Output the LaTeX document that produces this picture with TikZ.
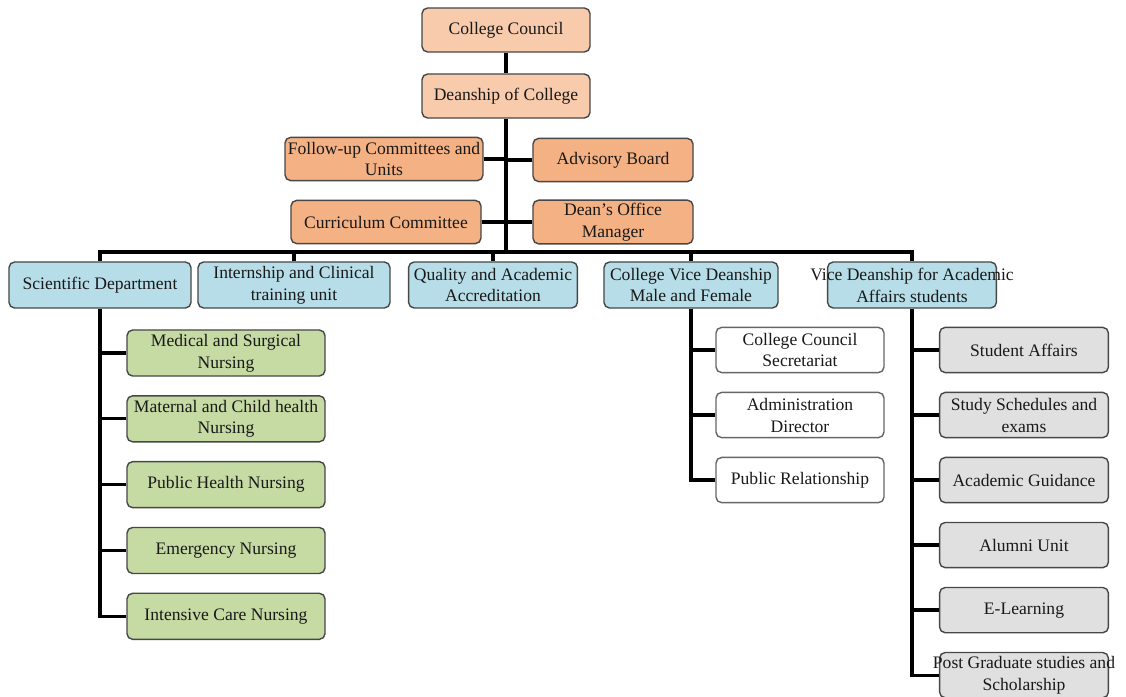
\documentclass[tikz,border=0pt]{standalone}
\usepackage{fontspec}
\setmainfont{Liberation Serif}
\usetikzlibrary{positioning}

\definecolor{peach}{HTML}{F8CBAD}
\definecolor{apricot}{HTML}{F4B183}
\definecolor{deptblue}{HTML}{B7DEE8}
\definecolor{sage}{HTML}{C6DAA3}
\definecolor{mist}{HTML}{E0E0E0}
\definecolor{rim}{HTML}{474747}

% a line that may stick out of its box
\newcommand{\spill}[1]{\makebox[0pt]{#1}}

\begin{document}
\begin{tikzpicture}[
        x=0.025cm, y=-0.025cm,
        node distance=0.46cm,
        font=\fontsize{12.5}{15.6}\selectfont,
        box/.style={draw=rim, line width=1pt, rounded corners=4pt, align=center, inner sep=2pt, text=black!90},
        headbox/.style={box, fill=peach, minimum width=4.2cm, minimum height=1.1cm},
        staffbox/.style={box, fill=apricot, minimum height=1.08cm},
        deptbox/.style={box, fill=deptblue, minimum height=1.15cm},
        unitbox/.style={box, fill=sage, minimum width=4.95cm, minimum height=1.15cm},
        officebox/.style={box, fill=white, draw=gray!80!black, minimum width=4.2cm, minimum height=1.13cm},
        servicebox/.style={box, fill=mist, minimum width=4.22cm, minimum height=1.13cm},
        link/.style={line width=2.3pt, black}
      ]
      \useasboundingbox (0,0) rectangle (1126,697);

      % --- Top of the chart ---
      \node[headbox] (council) at (506,30) {College Council};
      \node[headbox] (dean) at (506,96) {Deanship of College};

      \node[staffbox, minimum width=4.85cm] (followup) at (384,159) {Follow-up Committees and\\Units};
      \node[staffbox, minimum width=4.0cm] (advisory) at (613,160) {Advisory Board};
      \node[staffbox, minimum width=4.75cm] (curriculum) at (386,222) {Curriculum Committee};
      \node[staffbox, minimum width=4.0cm] (deanoffice) at (613,222) {Dean’s Office\\Manager};

      \coordinate (bar) at (506,252);

      % --- Second level ---
      \node[deptbox, minimum width=4.55cm] (sci) at (100,285) {Scientific Department};
      \node[deptbox, minimum width=4.8cm] (intern) at (294,285) {Internship and Clinical\\training unit};
      \node[deptbox, minimum width=4.22cm] (quality) at (493,285) {Quality and Academic\\Accreditation};
      \node[deptbox, minimum width=4.35cm] (vicemf) at (691,285) {College Vice Deanship\\Male and Female};
      \node[deptbox, minimum width=4.22cm] (viceacad) at (912,285) {\spill{Vice Deanship for Academic}\\Affairs students};

      % --- Departments ---
      \node[unitbox] (medical) at (226,353) {Medical and Surgical\\Nursing};
      \node[unitbox, below=of medical] (maternal) {Maternal and Child health\\Nursing};
      \node[unitbox, below=of maternal] (public) {Public Health Nursing};
      \node[unitbox, below=of public] (emergency) {Emergency Nursing};
      \node[unitbox, below=of emergency] (intensive) {Intensive Care Nursing};

      % --- Vice deanship offices ---
      \node[officebox] (secretariat) at (800,350) {College Council\\Secretariat};
      \node[officebox, below=of secretariat] (admin) {Administration\\Director};
      \node[officebox, below=of admin] (relations) {Public Relationship};

      % --- Student services ---
      \node[servicebox] (affairs) at (1024,350) {Student Affairs};
      \node[servicebox, below=of affairs] (schedules) {Study Schedules and\\exams};
      \node[servicebox, below=of schedules] (guidance) {Academic Guidance};
      \node[servicebox, below=of guidance] (alumni) {Alumni Unit};
      \node[servicebox, below=of alumni] (elearning) {E-Learning};
      \node[servicebox, below=of elearning] (postgrad) {\spill{Post Graduate studies and}\\Scholarship};

      % --- Lines ---
      \draw[link] (council) -- (dean);
      \draw[link] (dean) -- (bar);
      \draw[link] (followup.east) -- (followup.east -| bar);
      \draw[link] (advisory.west) -- (advisory.west -| bar);
      \draw[link] (curriculum.east) -- (curriculum.east -| bar);
      \draw[link] (deanoffice.west) -- (deanoffice.west -| bar);

      \draw[link] (sci.north) |- (bar) -| (viceacad.north);
      \foreach \d in {intern,quality,vicemf}
        \draw[link] (\d.north) -- (\d.north |- bar);

      \draw[link] (sci.south) |- (intensive.west);
      \foreach \u in {medical,maternal,public,emergency}
        \draw[link] (sci.south |- \u.west) -- (\u.west);

      \draw[link] (vicemf.south) |- (relations.west);
      \foreach \u in {secretariat,admin}
        \draw[link] (vicemf.south |- \u.west) -- (\u.west);

      \draw[link] (viceacad.south) |- (postgrad.west);
      \foreach \u in {affairs,schedules,guidance,alumni,elearning}
        \draw[link] (viceacad.south |- \u.west) -- (\u.west);

    \end{tikzpicture}
\end{document}
